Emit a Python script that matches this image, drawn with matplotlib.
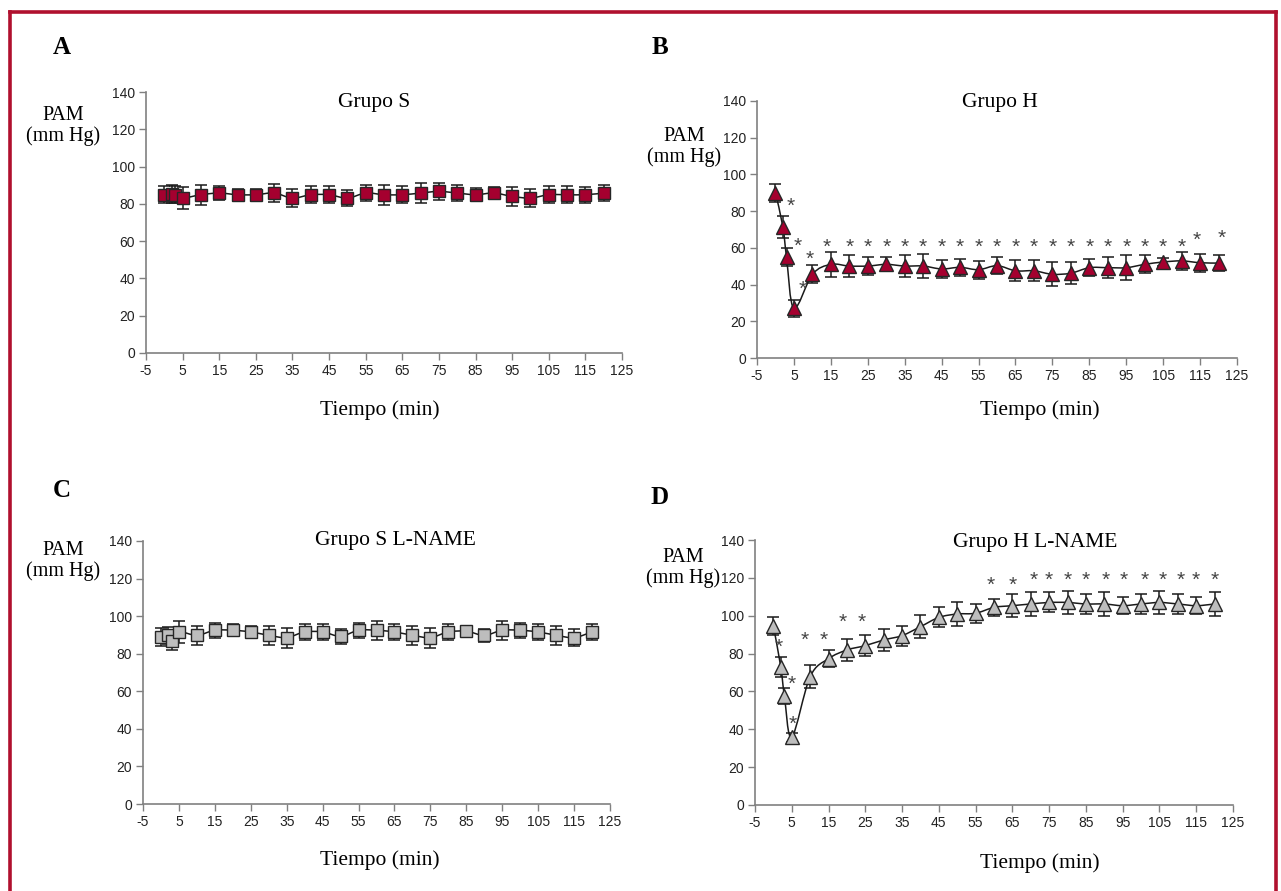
import numpy as np
import matplotlib
matplotlib.use('agg')
import matplotlib.pyplot as plt
from matplotlib.path import Path
from matplotlib.patches import PathPatch
from matplotlib.lines import Line2D

plt.rcParams['axes.unicode_minus'] = False

W, H = 1281, 891

# tiempo (min)
tiempo = [0, 2, 3, 5, 10, 15, 20, 25, 30, 35, 40, 45, 50, 55, 60,
          65, 70, 75, 80, 85, 90, 95, 100, 105, 110, 115, 120]

# Grupo S
pam_s = [85.0, 85.3, 85.0, 83.1, 84.9, 85.8, 84.9, 84.9, 85.8, 83.1, 84.9, 84.9, 83.1, 85.8,
         84.9, 84.9, 85.8, 86.7, 85.8, 84.9, 85.8, 84.0, 83.1, 84.9, 84.9, 84.9, 85.8]
err_s = [4.7, 5.0, 4.5, 6.0, 5.3, 3.8, 3.2, 3.2, 5.0, 5.0, 4.7, 4.7, 4.2, 4.2,
         5.3, 4.7, 5.3, 4.7, 4.2, 3.5, 3.0, 4.9, 4.9, 4.7, 4.7, 4.4, 4.4]

# Grupo H
pam_h = [90.0, 71.6, 54.9, 27.0, 45.6, 51.0, 50.1, 50.1, 51.0, 50.1, 50.1, 48.5, 49.4, 48.1,
         50.3, 47.5, 47.5, 45.6, 46.2, 49.2, 49.2, 49.2, 51.0, 52.3, 52.9, 51.9, 51.7]
err_h = [4.8, 6.0, 5.0, 4.5, 5.0, 6.9, 5.8, 4.9, 3.8, 5.8, 6.7, 4.7, 4.6, 4.9,
         4.6, 5.7, 5.7, 6.6, 6.0, 4.7, 5.8, 6.8, 4.9, 2.4, 4.7, 4.9, 4.2]
star_x_h = [4.1, 5.9, 7.5, 9.4, 13.9, 20, 25, 30, 35, 40, 45, 50, 55, 60, 65,
            70, 75, 80, 85, 90, 95, 100, 105, 110, 114.1, 120.9]
star_y_h = [82.6, 61.0, 37.3, 53.8, 60.3, 60.3, 60.3, 60.3, 60.3, 60.3, 60.3, 60.3, 60.3,
            60.3, 60.3, 60.3, 60.3, 60.3, 60.3, 60.3, 60.3, 60.3, 60.3, 60.3, 64.0, 65.3]

# Grupo S L-NAME
pam_sl = [88.9, 89.8, 86.7, 91.6, 89.8, 92.5, 92.5, 91.6, 89.8, 88.6, 91.6, 91.6, 89.3, 92.5,
          92.5, 91.6, 89.8, 88.6, 91.6, 92.0, 89.8, 92.5, 92.5, 91.6, 89.8, 88.6, 91.6]
err_sl = [4.8, 4.5, 4.8, 5.9, 5.0, 4.1, 3.2, 3.2, 5.0, 5.3, 4.1, 4.1, 4.1, 4.1,
          5.0, 4.1, 5.0, 5.3, 4.1, 2.8, 3.5, 5.0, 4.1, 4.1, 5.0, 4.4, 4.1]

# Grupo H L-NAME
pam_hl = [94.6, 73.1, 57.6, 35.8, 67.8, 77.3, 81.9, 84.2, 87.2, 89.5, 94.2, 99.1, 100.9, 101.3,
          104.4, 105.3, 106.2, 107.0, 107.0, 106.2, 106.2, 105.3, 106.2, 107.0, 106.2, 105.3, 106.2]
err_hl = [4.6, 5.3, 4.4, 2.5, 6.2, 4.6, 6.0, 5.5, 6.0, 5.3, 6.0, 5.3, 6.2, 4.9,
          4.4, 6.2, 6.2, 5.3, 6.2, 5.3, 6.2, 4.4, 5.3, 6.2, 5.3, 4.4, 6.2]
star_x_hl = [1.5, 5.1, 5.3, 8.6, 13.6, 18.9, 24.1, 59.1, 65, 70.7, 75, 80, 85, 90.3,
             95.4, 100.9, 105.9, 110.9, 114.8, 120]
star_y_hl = [83.3, 63.9, 42.8, 86.8, 86.8, 96.5, 96.5, 115.9, 115.9, 118.9, 118.9, 118.9,
             118.9, 118.9, 118.9, 118.9, 118.9, 118.9, 118.9, 118.9]

xticks = [-5, 5, 15, 25, 35, 45, 55, 65, 75, 85, 95, 105, 115, 125]
yticks = [0, 20, 40, 60, 80, 100, 120, 140]

ROJO = '#A5002F'
GRIS = '#BDBDBD'
EJE = '#808080'
SERIF = ['Liberation Serif', 'DejaVu Serif']
SANS = ['Liberation Sans', 'DejaVu Sans']


def smooth(x, y):
    # curva suavizada tipo Excel (Bezier con tangentes Catmull-Rom)
    pts = np.column_stack([x, y]).astype(float)
    n = len(pts)
    verts = [pts[0]]
    codes = [Path.MOVETO]
    for i in range(n - 1):
        p0 = pts[max(i - 1, 0)]
        p1 = pts[i]
        p2 = pts[i + 1]
        p3 = pts[min(i + 2, n - 1)]
        verts += [p1 + (p2 - p0) / 6, p2 - (p3 - p1) / 6, p2]
        codes += [Path.CURVE4] * 3
    return Path(verts, codes)


def fx(px):
    return px / W


def fy(py):
    return 1 - py / H


def panel(box, y, err, marker, color, title, letter, letter_xy, pam_xy, title_xy, tiempo_xy,
          stars=None):
    l, r, t, b = box
    ax = fig.add_axes([fx(l), fy(b), (r - l) / W, (b - t) / H])
    ax.set_xlim(-5, 125)
    ax.set_ylim(0, 140)
    ax.set_xticks(xticks)
    ax.set_yticks(yticks)
    for s in ['top', 'right']:
        ax.spines[s].set_visible(False)
    for s in ['left', 'bottom']:
        ax.spines[s].set_color(EJE)
        ax.spines[s].set_linewidth(1.2)
    ax.tick_params(direction='out', length=5, width=1.0, color=EJE, labelsize=10,
                   labelcolor='#222222', pad=3)
    for lab in ax.get_xticklabels() + ax.get_yticklabels():
        lab.set_family(SANS)
    ax.patch.set_alpha(0)

    ax.add_patch(PathPatch(smooth(tiempo, y), fill=False, lw=1.1, ec='#1a1a1a', zorder=2))
    ax.errorbar(tiempo, y, yerr=err, fmt='none', ecolor='#1a1a1a', elinewidth=1.1,
                capsize=4, capthick=1.1, zorder=3)
    ax.plot(tiempo, y, ls='none', marker=marker, ms=9 if marker == 's' else 10,
            mfc=color, mec='#262626', mew=1.0, zorder=4, clip_on=False)
    if stars is not None:
        for sx, sy in zip(*stars):
            ax.text(sx, sy, '*', ha='center', va='center', fontsize=15,
                    color='#444444', family=SANS)

    fig.text(fx(letter_xy[0]), fy(letter_xy[1]), letter, ha='center', va='center',
             fontsize=18, fontweight='bold', family=SERIF)
    fig.text(fx(pam_xy[0]), fy(pam_xy[1]), 'PAM\n(mm Hg)', ha='center', va='center',
             fontsize=14.5, family=SERIF, linespacing=1.15)
    fig.text(fx(title_xy[0]), fy(title_xy[1]), title, ha='center', va='center',
             fontsize=15.5, family=SERIF)
    fig.text(fx(tiempo_xy[0]), fy(tiempo_xy[1]), 'Tiempo (min)', ha='center', va='center',
             fontsize=15.5, family=SERIF)
    return ax


fig = plt.figure(figsize=(W / 100, H / 100), dpi=100)

# marco rojo
for xs, ys in [([10, 10], [H, 12]), ([10, 1276], [12, 12]), ([1276, 1276], [12, H])]:
    fig.add_artist(Line2D([fx(v) for v in xs], [fy(v) for v in ys], color='#B0102E',
                          lw=2.6, transform=fig.transFigure))

panel((146, 622, 92, 353), pam_s, err_s, 's', ROJO, 'Grupo S', 'A',
      (62, 47), (63, 126), (374, 102), (380, 410))
panel((757, 1237, 101, 358), pam_h, err_h, '^', ROJO, 'Grupo H', 'B',
      (660, 47), (684, 147), (1000, 103), (1040, 410), stars=(star_x_h, star_y_h))
panel((143, 610, 541, 804), pam_sl, err_sl, 's', GRIS, 'Grupo S L-NAME', 'C',
      (62, 490), (63, 561), (395, 540), (380, 860))
panel((755, 1233, 540, 805), pam_hl, err_hl, '^', GRIS, 'Grupo H L-NAME', 'D',
      (660, 497), (683, 568), (1035, 543), (1040, 863), stars=(star_x_hl, star_y_hl))

fig.savefig('out.png', dpi=100)
